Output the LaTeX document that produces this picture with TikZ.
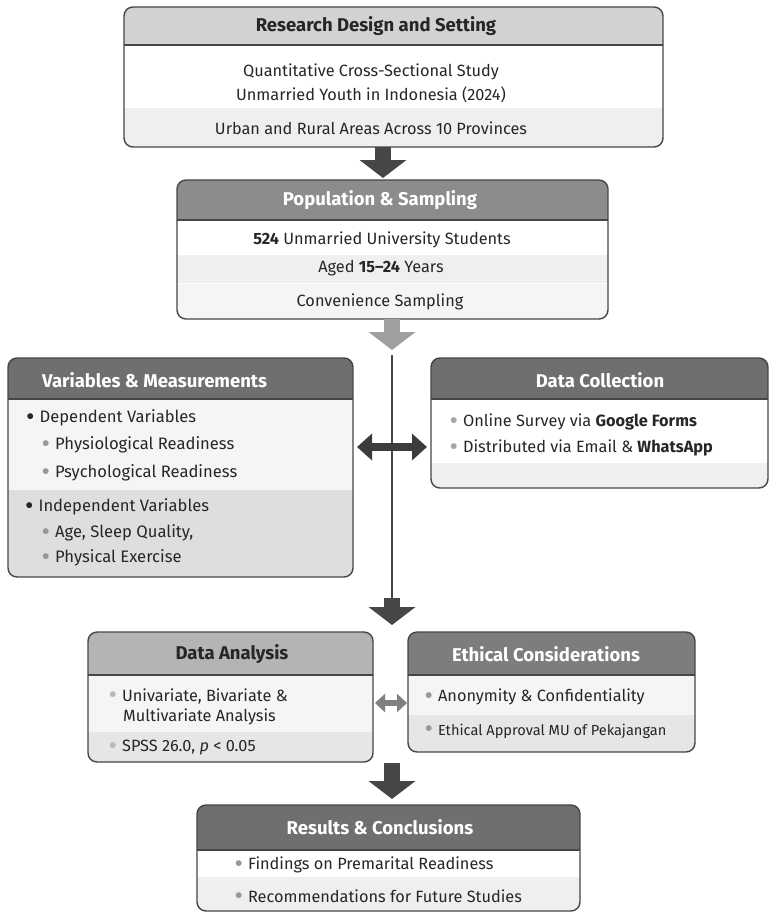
\documentclass[tikz,border=0pt]{standalone}
\usepackage{fontspec}
\setmainfont{Fira Sans}
\usetikzlibrary{arrows.meta}

\definecolor{edge}{HTML}{464646}
\definecolor{ink}{HTML}{262626}
\definecolor{hdlight}{HTML}{D2D2D2}
\definecolor{hdmid}{HTML}{8C8C8C}
\definecolor{hddark}{HTML}{6F6F6F}
\definecolor{hdpale}{HTML}{B4B4B4}
\definecolor{rowA}{HTML}{EFEFEF}
\definecolor{rowB}{HTML}{DEDEDE}
\definecolor{rowC}{HTML}{F5F5F5}
\definecolor{rowD}{HTML}{E6E6E6}

\newcommand{\bul}[1][gray]{\raisebox{-2.5pt}{\color{#1}\fontsize{26}{26}\selectfont\textbullet}\hspace{5pt}}

\tikzset{
  frame/.style={draw=edge, line width=1.4pt, rounded corners=9pt, inner sep=0pt, outer sep=0pt},
  hdrline/.style={draw=edge, line width=1.1pt},
  title/.style={font=\fontsize{18.5}{21}\selectfont\bfseries, text=white, inner sep=0pt},
  body/.style={font=\fontsize{16.3}{19}\selectfont, text=ink, inner sep=0pt},
  item/.style={body, anchor=west},
  bigarrow/.style={line width=16pt, -{Triangle[width=46pt,length=18pt]}},
  dblarrow/.style={line width=8pt, {Triangle[width=26pt,length=15pt]}-{Triangle[width=26pt,length=15pt]}}
}

\begin{document}
\begin{tikzpicture}[x=1pt, y=-1pt]
  \useasboundingbox (0,0) rectangle (771,914);
  \fill[white] (0,0) rectangle (771,914);

  % research design and setting
  \begin{scope}
    \clip[rounded corners=9pt] (124,7) rectangle (663,147);
    \fill[hdlight] (124,7) rectangle (663,45);
    \fill[white] (124,45) rectangle (663,108);
    \fill[rowA] (124,108) rectangle (663,147);
  \end{scope}
  \draw[hdrline] (124,45) -- (663,45);
  \node[frame, minimum width=539pt, minimum height=140pt] (design) at (393.5,77) {};
  \node[title, text=ink] (designT) at (376,26) {Research Design and Setting};
  \node[body] (designA) at (371,72) {Quantitative Cross-Sectional Study};
  \node[body] (designB) at (371,95) {Unmarried Youth in Indonesia (2024)};
  \node[body] (designC) at (371,128) {Urban and Rural Areas Across 10 Provinces};

  % population and sampling
  \begin{scope}
    \clip[rounded corners=9pt] (177,180) rectangle (608,319);
    \fill[hdmid] (177,180) rectangle (608,220);
    \fill[white] (177,220) rectangle (608,255);
    \fill[rowA] (177,255) rectangle (608,283);
    \fill[rowC] (177,284) rectangle (608,319);
  \end{scope}
  \draw[hdrline] (177,220) -- (608,220);
  \node[frame, minimum width=431pt, minimum height=139pt] (pop) at (392.5,249.5) {};
  \node[title] (popT) at (380,200) {Population \& Sampling};
  \node[body] (popA) at (382,240) {\textbf{524} Unmarried University Students};
  \node[body] (popB) at (381,268) {Aged \textbf{15–24} Years};
  \node[body] (popC) at (380,302) {Convenience Sampling};

  % variables and measurements
  \begin{scope}
    \clip[rounded corners=9pt] (8,358) rectangle (353,577);
    \fill[hddark] (8,358) rectangle (353,399);
    \fill[rowC] (8,399) rectangle (353,490);
    \fill[rowB] (8,490) rectangle (353,577);
  \end{scope}
  \draw[hdrline] (8,399) -- (353,399);
  \node[frame, minimum width=345pt, minimum height=219pt] (vars) at (180.5,467.5) {};
  \node[title, anchor=west] (varsT) at (42,380) {Variables \& Measurements};
  \node[item, font=\fontsize{16.6}{19}\selectfont] (varsA) at (26,418) {\bul[ink]Dependent Variables};
  \node[item, font=\fontsize{16.6}{19}\selectfont] (varsB) at (41.5,445) {\bul[gray!80]Physiological Readiness};
  \node[item, font=\fontsize{16.6}{19}\selectfont] (varsC) at (41.5,473) {\bul[gray!80]Psychological Readiness};
  \node[item, font=\fontsize{16.6}{19}\selectfont] (varsD) at (25,507) {\bul[ink]Independent Variables};
  \node[item, font=\fontsize{16.6}{19}\selectfont] (varsE) at (41.5,533) {\bul[gray!80]Age, Sleep Quality,};
  \node[item, font=\fontsize{16.6}{19}\selectfont] (varsF) at (41.5,558) {\bul[gray!80]Physical Exercise};

  % data collection
  \begin{scope}
    \clip[rounded corners=9pt] (431,358) rectangle (768,488);
    \fill[hddark] (431,358) rectangle (768,399);
    \fill[white] (431,399) rectangle (768,463);
    \fill[rowA] (431,463) rectangle (768,488);
  \end{scope}
  \draw[hdrline] (431,399) -- (768,399);
  \node[frame, minimum width=337pt, minimum height=130pt] (coll) at (599.5,423) {};
  \node[title] (collT) at (600,380) {Data Collection};
  \node[item] (collA) at (449.5,422) {\bul[gray!70]Online Survey via \textbf{Google Forms}};
  \node[item] (collB) at (449.5,448) {\bul[gray!70]Distributed via Email \& \textbf{WhatsApp}};

  % data analysis
  \begin{scope}
    \clip[rounded corners=9pt] (88,632) rectangle (373,762);
    \fill[hdpale] (88,632) rectangle (373,675);
    \fill[rowC] (88,675) rectangle (373,732);
    \fill[rowD] (88,732) rectangle (373,762);
  \end{scope}
  \draw[hdrline] (88,675) -- (373,675);
  \node[frame, minimum width=285pt, minimum height=130pt] (ana) at (230.5,697) {};
  \node[title, text=ink] (anaT) at (232,654) {Data Analysis};
  \node[item] (anaA) at (108.5,696) {\bul[gray!55]Univariate, Bivariate \&};
  \node[item] (anaB) at (123,717) {Multivariate Analysis};
  \node[item] (anaC) at (108.5,748) {\bul[gray!55]SPSS 26.0, \textit{p} < 0.05};

  % ethical considerations
  \begin{scope}
    \clip[rounded corners=9pt] (408,632) rectangle (695,752);
    \fill[hddark!90] (408,632) rectangle (695,675);
    \fill[rowC] (408,675) rectangle (695,715);
    \fill[rowD] (408,715) rectangle (695,752);
  \end{scope}
  \draw[hdrline] (408,675) -- (695,675);
  \node[frame, minimum width=287pt, minimum height=120pt] (eth) at (551.5,692) {};
  \node[title] (ethT) at (546,654) {Ethical Considerations};
  \node[item] (ethA) at (424.5,697) {\bul[gray!80]Anonymity \& Confidentiality};
  \node[item, font=\fontsize{14.6}{17}\selectfont] (ethB) at (424.5,731) {\bul[gray!80]Ethical Approval MU of Pekajangan};

  % results and conclusions
  \begin{scope}
    \clip[rounded corners=9pt] (197,805) rectangle (580,911);
    \fill[hddark] (197,805) rectangle (580,850);
    \fill[white] (197,850) rectangle (580,877);
    \fill[rowA] (197,877) rectangle (580,911);
  \end{scope}
  \draw[hdrline] (197,850) -- (580,850);
  \node[frame, minimum width=383pt, minimum height=106pt] (res) at (388.5,858) {};
  \node[title] (resT) at (380,827) {Results \& Conclusions};
  \node[item] (resA) at (234.5,865) {\bul[gray!80]Findings on Premarital Readiness};
  \node[item] (resB) at (234.5,897) {\bul[gray!80]Recommendations for Future Studies};

  % connectors
  \coordinate (split) at (392,350);
  \coordinate (join) at (392,598);
  \coordinate (low) at (392,625);
  \coordinate (tailR) at (392,763);
  \draw[bigarrow, edge] (design.south -| 383,0) -- (383,178);
  \draw[bigarrow, gray!75] (pop.south -| split) -- (split);
  \draw[edge, line width=1.2pt] (split) ++(0,5) -- (join);
  \draw[bigarrow, edge] (join) -- (low);
  \draw[bigarrow, edge] (tailR) -- ([yshift=6pt]res.north -| tailR);
  \draw[dblarrow, ink!90] ([xshift=4pt]vars.east |- 0,447) -- ([xshift=-4pt]coll.west |- 0,447);
  \draw[dblarrow, gray, line width=6pt, {Triangle[width=18pt,length=10pt]}-{Triangle[width=18pt,length=10pt]}]
    ([xshift=2pt]ana.east |- 0,703) -- ([xshift=-1pt]eth.west |- 0,703);
\end{tikzpicture}
\end{document}
